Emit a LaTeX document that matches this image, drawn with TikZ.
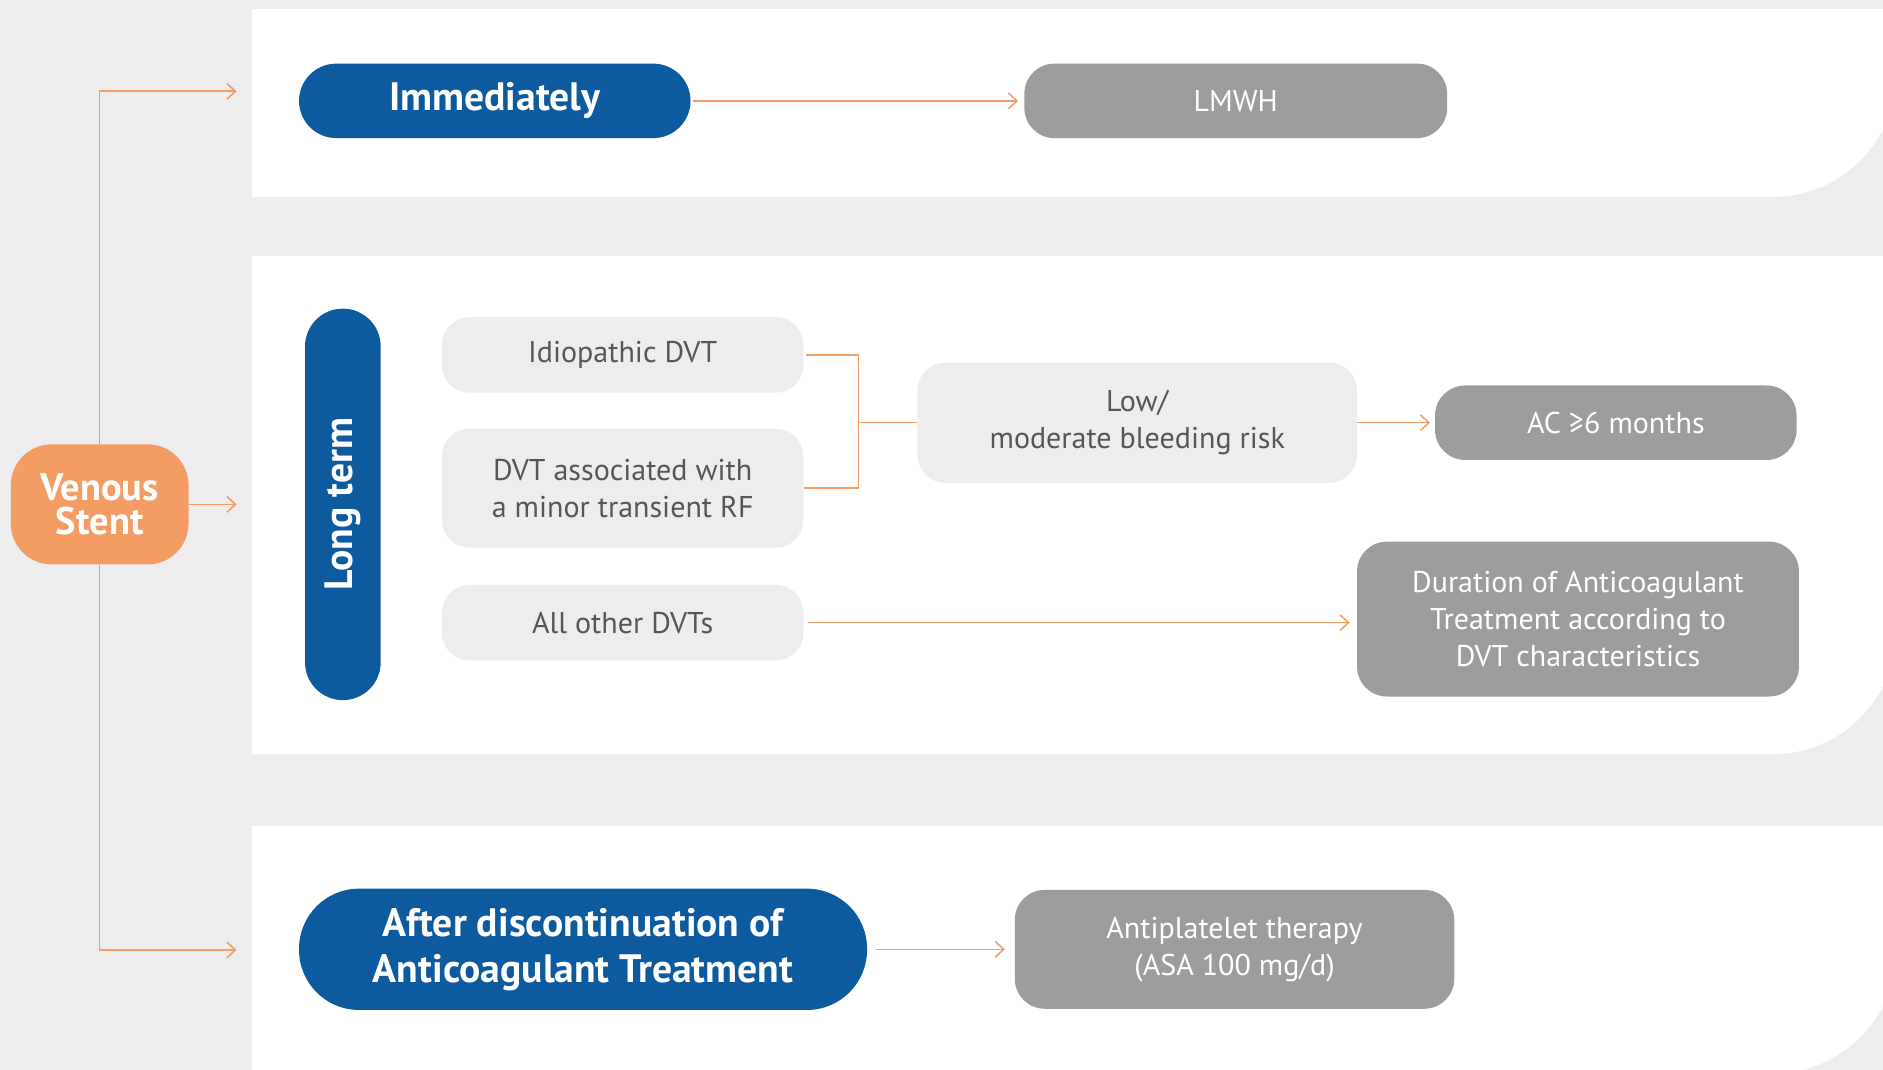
\documentclass[tikz,border=0pt]{standalone}
\usepackage{fontspec}
\setmainfont{PT Sans}
\usetikzlibrary{arrows.meta}
\definecolor{bggray}{HTML}{EDEDED}
\definecolor{stentorange}{HTML}{F39C64}
\definecolor{phaseblue}{HTML}{0D5A9E}
\definecolor{drugray}{HTML}{9D9D9C}
\definecolor{txtgray}{HTML}{575756}
\tikzstyle{phase} = [fill=phaseblue, text=white, align=center, inner sep=0pt,
    font=\bfseries\fontsize{33}{38}\selectfont]
\tikzstyle{cond} = [fill=bggray, text=txtgray, align=center, inner sep=0pt,
    rounded corners=23pt, font=\fontsize{25}{31}\selectfont]
\tikzstyle{therapy} = [fill=drugray, text=white, align=center, inner sep=0pt,
    rounded corners=25pt, font=\fontsize{25}{31}\selectfont]
\tikzstyle{connect} = [draw=stentorange, line width=1.3pt]
\tikzstyle{connarrow} = [connect, -{Straight Barb[length=7pt,width=13pt]}]

\begin{document}
\begin{tikzpicture}[x=1pt, y=-1pt]
    \useasboundingbox (0,0) rectangle (1568,891);
    \clip (0,0) rectangle (1568,891);
    \fill[bggray] (0,0) rectangle (1568,891);
    % white panels
    \fill[white] (210,7.5) -- (1579,7.5) -- (1579,61) arc[start angle=0, end angle=90, radius=103] -- (210,164) -- cycle;
    \fill[white] (210,213) -- (1579,213) -- (1579,525) arc[start angle=0, end angle=90, radius=103] -- (210,628) -- cycle;
    \fill[white] (210,688) -- (1579,688) -- (1579,791) arc[start angle=0, end angle=90, radius=103] -- (210,894) -- cycle;

    \node[phase, fill=stentorange, minimum width=148pt, minimum height=100pt, rounded corners=34pt,
        font=\bfseries\fontsize{32}{29}\selectfont] (stent) at (83,420) {Venous\\Stent};

    \node[phase, minimum width=326pt, minimum height=62pt, rounded corners=31pt] (imm) at (412,84) {Immediately};
    \node[therapy, minimum width=352pt, minimum height=62pt] (lmwh) at (1029,84) {LMWH};

    \node[phase, rotate=90, minimum width=326pt, minimum height=63pt, rounded corners=31.5pt] (long) at (285.5,420) {Long term};
    \node[cond, minimum width=301pt, minimum height=63pt] (idio) at (518.5,295.5) {Idiopathic DVT};
    \node[cond, minimum width=301pt, minimum height=99pt] (assoc) at (518.5,406.5) {DVT associated with\\a minor transient RF};
    \node[cond, minimum width=301pt, minimum height=63pt] (other) at (518.5,518.5) {All other DVTs};
    \node[cond, minimum width=366pt, minimum height=100pt] (risk) at (947,352) {Low/\\moderate bleeding risk};
    \node[therapy, minimum width=301pt, minimum height=62pt] (ac) at (1345.5,352) {AC ≥6 months};
    \node[therapy, minimum width=368pt, minimum height=129pt] (dur) at (1314,515.5) {Duration of Anticoagulant\\Treatment according to\\DVT characteristics};

    \node[phase, minimum width=473pt, minimum height=101pt, rounded corners=50pt] (after) at (485.5,790.5) {After discontinuation of\\Anticoagulant Treatment};
    \node[therapy, minimum width=366pt, minimum height=99pt] (anti) at (1028,790.5) {Antiplatelet therapy\\(ASA 100 mg/d)};

    \coordinate (immtip) at (197,76);
    \coordinate (longtip) at (197,420);
    \coordinate (aftertip) at (197,791);
    \coordinate (join) at (715,352);

    \draw[connarrow] (stent.north) |- (immtip);
    \draw[connarrow] (stent.east) -- (longtip);
    \draw[connarrow] (stent.south) |- (aftertip);
    \draw[connarrow, shorten <=2pt, shorten >=5pt] (imm) -- (lmwh);
    \draw[connect, shorten <=2pt] (idio.east) -| (join) |- (assoc.east);
    \draw[connect] (join) -- (risk.west);
    \draw[connarrow, shorten >=4pt] (risk) -- (ac);
    \draw[connarrow, shorten <=4pt, shorten >=6pt] (other.east) -- (other.east -| dur.west);
    \draw[connarrow, shorten <=7pt, shorten >=8pt] (after) -- (anti);
\end{tikzpicture}
\end{document}
